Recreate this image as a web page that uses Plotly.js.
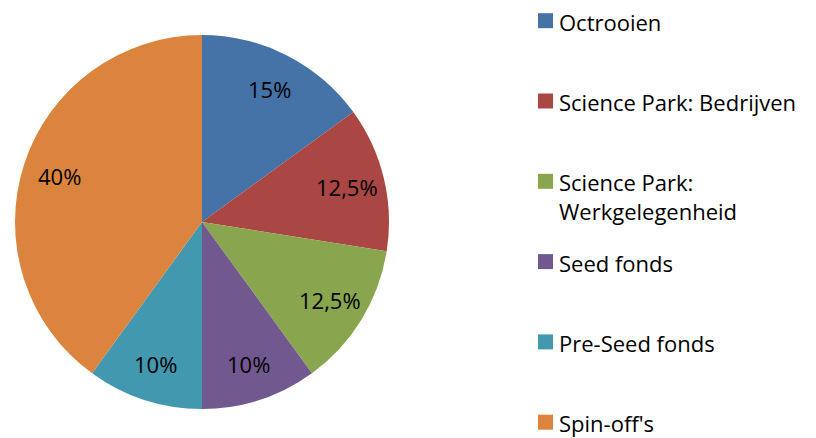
<!DOCTYPE html>
<html>
<head>
<meta charset="utf-8">
<script src="https://cdn.plot.ly/plotly-3.0.1.min.js"></script>
<style>
  html, body { margin: 0; padding: 0; background: #fff; }
  #chart { width: 816px; height: 438px; }
</style>
</head>
<body>
<div id="chart"></div>
<script>
// shares per category (percent)
const categories = [
    "Octrooien",
    "Science Park: Bedrijven",
    "Science Park:<br>Werkgelegenheid",
    "Seed fonds",
    "Pre-Seed fonds",
    "Spin-off's"
];
const shares = [15, 12.5, 12.5, 10, 10, 40];
const colors = ["#4572A7", "#AA4643", "#89A54E", "#71588F", "#4198AF", "#DB843D"];

const W = 816, H = 438;
const FONT = "'Open Sans', sans-serif";
const FS = 22;

// pie box in pixels
const pieL = 15, pieR = 389, pieT = 35, pieB = 409;
const cx = (pieL + pieR) / 2, cy = (pieT + pieB) / 2, rad = (pieR - pieL) / 2;

const shapes = [];
const annotations = [];

// Excel-like data labels: mid-angle of each slice, at ~0.8 of the radius
const total = shares.reduce((a, b) => a + b, 0);
let acc = 0;
shares.forEach((v, i) => {
    const mid = (acc + v / 2) / total * 2 * Math.PI;
    acc += v;
    const px = cx + 0.8 * rad * Math.sin(mid);
    const py = cy - 0.8 * rad * Math.cos(mid);
    annotations.push({
        xref: "paper", yref: "paper",
        x: px / W, y: 1 - py / H,
        xanchor: "center", yanchor: "middle",
        text: String(v).replace(".", ",") + "%",
        showarrow: false,
        font: { family: FONT, size: FS, color: "#000" }
    });
});

// legend drawn by hand: Excel style, evenly spaced rows
const legTop = 20.7, legStep = 80.3;
categories.forEach((c, i) => {
    const yc = legTop + i * legStep;
    shapes.push({
        type: "rect", xref: "paper", yref: "paper",
        x0: 538 / W, x1: 553 / W,
        y0: 1 - (yc - 7.5) / H, y1: 1 - (yc + 7.5) / H,
        fillcolor: colors[i], line: { width: 0 }
    });
    annotations.push({
        xref: "paper", yref: "paper",
        x: 557 / W, y: 1 - (yc - 16) / H,
        xanchor: "left", yanchor: "top", align: "left",
        text: c, showarrow: false,
        font: { family: FONT, size: FS, color: "#000" }
    });
});

const trace = {
    type: "pie",
    labels: categories,
    values: shares,
    sort: false,
    direction: "clockwise",
    rotation: 0,
    marker: { colors: colors, line: { width: 0 } },
    textinfo: "none",
    hoverinfo: "label+percent",
    domain: { x: [pieL / W, pieR / W], y: [1 - pieB / H, 1 - pieT / H] }
};

Plotly.newPlot("chart", [trace], {
    width: W,
    height: H,
    margin: { l: 0, r: 0, t: 0, b: 0 },
    paper_bgcolor: "#fff",
    showlegend: false,
    separators: ",.",
    font: { family: FONT },
    shapes: shapes,
    annotations: annotations
}, { displayModeBar: false });
</script>
</body>
</html>
